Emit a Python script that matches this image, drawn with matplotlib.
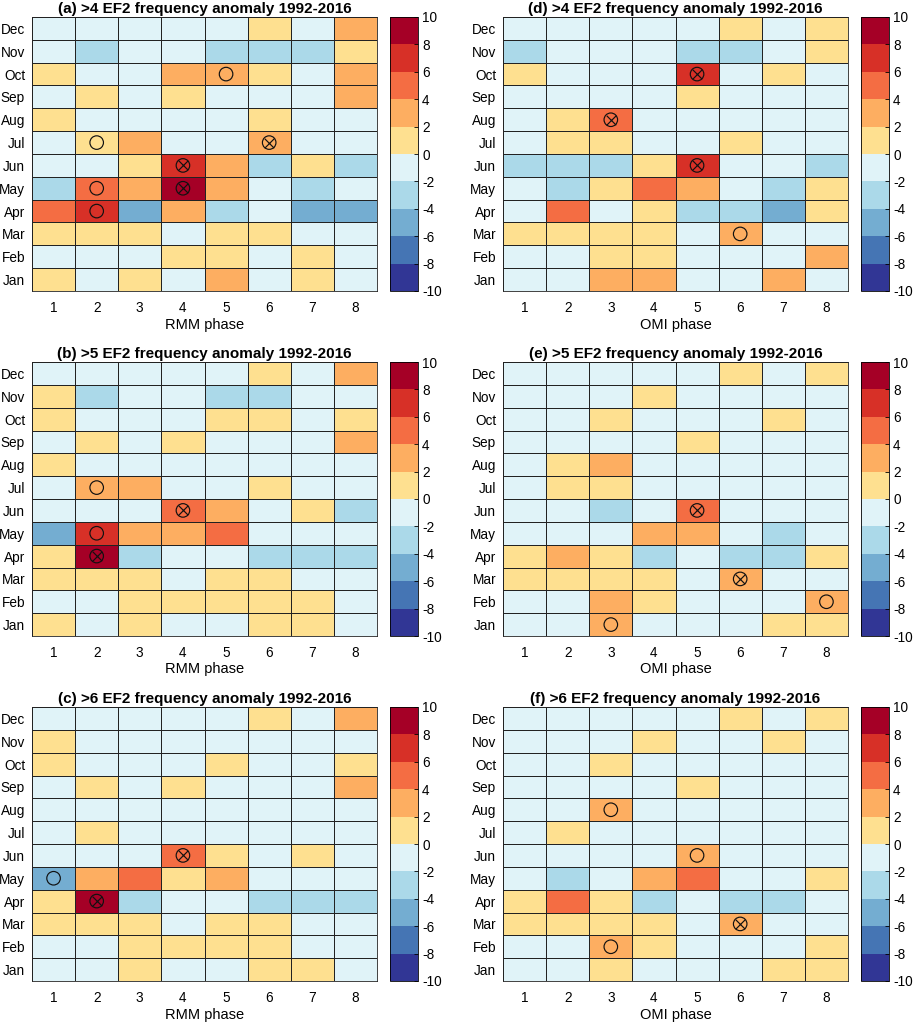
import numpy as np
import matplotlib
matplotlib.use("Agg")
import matplotlib.pyplot as plt
from matplotlib.colors import ListedColormap, BoundaryNorm

plt.rcParams["font.family"] = ["Liberation Sans", "DejaVu Sans"]
plt.rcParams["axes.unicode_minus"] = False

months = ["Jan", "Feb", "Mar", "Apr", "May", "Jun", "Jul", "Aug", "Sep", "Oct", "Nov", "Dec"]
phases = [1, 2, 3, 4, 5, 6, 7, 8]
levels = [-10, -8, -6, -4, -2, 0, 2, 4, 6, 8, 10]
colors = ["#313695", "#4575b4", "#74add1", "#abd9e9", "#e0f3f8",
          "#fee090", "#fdae61", "#f46d43", "#d73027", "#a50026"]

# anomaly values, rows Jan..Dec, columns phase 1..8
anom_a = [
    [1, -1, 1, -1, 3, -1, 1, -1],
    [-1, -1, -1, 1, 1, -1, 1, -1],
    [1, 1, 1, -1, 1, 1, -1, -1],
    [5, 7, -5, 3, -3, -1, -5, -5],
    [-3, 5, 3, 9, 3, -1, -3, -1],
    [-1, -1, 1, 7, 3, -3, 1, -3],
    [-1, 1, 3, -1, -1, 3, -1, -1],
    [1, -1, -1, -1, -1, 1, -1, -1],
    [-1, 1, -1, 1, -1, -1, -1, 3],
    [1, -1, -1, 3, 3, 1, -1, 3],
    [-1, -3, -1, -1, -3, -3, -3, 1],
    [-1, -1, -1, -1, -1, 1, -1, 3],
]
anom_b = [
    [1, -1, 1, -1, -1, 1, 1, -1],
    [-1, -1, 1, 1, 1, 1, 1, -1],
    [1, 1, 1, -1, 1, 1, -1, -1],
    [1, 9, -3, -1, -1, -3, -3, -3],
    [-5, 7, 3, 3, 5, -1, -1, -1],
    [-1, -1, -1, 5, 3, -1, 1, -3],
    [-1, 3, 3, -1, -1, 1, -1, -1],
    [1, -1, -1, -1, -1, -1, -1, -1],
    [-1, 1, -1, 1, -1, -1, -1, 3],
    [1, -1, -1, -1, 1, 1, -1, 1],
    [1, -3, -1, -1, -3, -3, -1, -1],
    [-1, -1, -1, -1, -1, 1, -1, 3],
]
anom_c = [
    [-1, -1, 1, -1, -1, 1, 1, -1],
    [-1, -1, 1, 1, 1, 1, -1, -1],
    [1, 1, 1, -1, 1, 1, -1, -1],
    [1, 9, -3, -1, -1, -3, -3, -3],
    [-5, 3, 5, 1, 3, -1, -1, -1],
    [-1, -1, -1, 5, 1, -1, 1, -1],
    [-1, 1, -1, -1, -1, -1, -1, -1],
    [-1, -1, -1, -1, -1, -1, -1, -1],
    [-1, 1, -1, 1, -1, -1, -1, 3],
    [1, -1, -1, -1, 1, -1, -1, 1],
    [1, -1, -1, -1, -1, -1, -1, -1],
    [-1, -1, -1, -1, -1, 1, -1, 3],
]
anom_d = [
    [-1, -1, 3, 3, -1, -1, 3, -1],
    [-1, -1, 1, 1, -1, -1, -1, 3],
    [1, 1, 1, 1, -1, 3, -1, -1],
    [-1, 5, -1, 1, -3, -3, -5, 1],
    [-1, -3, 1, 5, 3, -1, -3, 1],
    [-3, -3, -3, 1, 7, -1, -1, -3],
    [-1, 1, 1, -1, -1, 1, -1, -1],
    [-1, 1, 5, -1, -1, -1, -1, -1],
    [-1, -1, -1, -1, 1, -1, -1, -1],
    [1, -1, -1, -1, 7, -1, 1, -1],
    [-3, -1, -1, -1, -3, -3, -1, 1],
    [-1, -1, -1, -1, -1, 1, -1, 1],
]
anom_e = [
    [-1, -1, 3, -1, -1, -1, 1, 1],
    [-1, -1, 3, 1, -1, -1, -1, 3],
    [1, 1, 1, 1, -1, 3, -1, -1],
    [1, 3, 1, -3, -1, -3, -3, 1],
    [-1, -1, -1, 3, 3, -1, -3, -1],
    [-1, -1, -3, -1, 5, -1, -1, -1],
    [-1, 1, 1, -1, -1, -1, -1, -1],
    [-1, 1, 3, -1, -1, -1, -1, -1],
    [-1, -1, -1, -1, 1, -1, -1, -1],
    [-1, -1, 1, -1, -1, -1, 1, -1],
    [-1, -1, -1, 1, -1, -1, -1, -1],
    [-1, -1, -1, -1, -1, 1, -1, 1],
]
anom_f = [
    [-1, -1, 1, -1, -1, -1, 1, 1],
    [-1, -1, 3, 1, -1, -1, -1, 1],
    [1, 1, 1, 1, -1, 3, -1, -1],
    [1, 5, 1, -3, -1, -3, -3, -1],
    [-1, -3, -1, 3, 5, -1, -1, 1],
    [-1, -1, -1, -1, 3, -1, -1, -1],
    [-1, 1, -1, -1, -1, -1, -1, -1],
    [-1, -1, 3, -1, -1, -1, -1, -1],
    [-1, -1, -1, -1, 1, -1, -1, -1],
    [-1, -1, 1, -1, -1, -1, -1, -1],
    [-1, -1, -1, 1, -1, -1, 1, -1],
    [-1, -1, -1, -1, -1, 1, -1, 1],
]

# significance markers: (phase, month), circle = 90%, crossed circle = 95%
circ_a = [(5, "Oct"), (2, "Jul"), (2, "May"), (2, "Apr")]
cross_a = [(6, "Jul"), (4, "Jun"), (4, "May")]
circ_b = [(2, "Jul"), (2, "May")]
cross_b = [(4, "Jun"), (2, "Apr")]
circ_c = [(1, "May")]
cross_c = [(4, "Jun"), (2, "Apr")]
circ_d = [(6, "Mar")]
cross_d = [(5, "Oct"), (3, "Aug"), (5, "Jun")]
circ_e = [(8, "Feb"), (3, "Jan")]
cross_e = [(5, "Jun"), (6, "Mar")]
circ_f = [(3, "Aug"), (5, "Jun"), (3, "Feb")]
cross_f = [(6, "Mar")]

titles = {
    "a": "(a) >4 EF2 frequency anomaly 1992-2016",
    "b": "(b) >5 EF2 frequency anomaly 1992-2016",
    "c": "(c) >6 EF2 frequency anomaly 1992-2016",
    "d": "(d) >4 EF2 frequency anomaly 1992-2016",
    "e": "(e) >5 EF2 frequency anomaly 1992-2016",
    "f": "(f) >6 EF2 frequency anomaly 1992-2016",
}

cmap = ListedColormap(colors)
norm = BoundaryNorm(levels, cmap.N)

W, H = 913, 1024
fig = plt.figure(figsize=(W / 100, H / 100), dpi=100)


def px_axes(x0, y0, x1, y1):
    return fig.add_axes([x0 / W, 1 - y1 / H, (x1 - x0) / W, (y1 - y0) / H])


def panel(key, data, circ, cross, xlabel, left, top):
    ax = px_axes(left, top, left + 345, top + 274)
    cax = px_axes(left + 358, top, left + 386, top + 274)
    xe = np.arange(0.5, len(phases) + 1, 1)
    ye = np.arange(0.5, len(months) + 1, 1)
    mesh = ax.pcolormesh(xe, ye, np.array(data), cmap=cmap, norm=norm,
                         edgecolors="#222222", linewidth=0.55)
    ax.set_xlim(0.5, 8.5)
    ax.set_ylim(0.5, 12.5)
    ax.set_xticks(phases)
    ax.set_yticks(range(1, 13))
    ax.set_yticklabels(months)
    ax.tick_params(length=0, labelsize=9.8)
    ax.tick_params(axis="x", pad=7)
    ax.tick_params(axis="y", pad=5)
    ax.set_xlabel(xlabel, fontsize=10.5, labelpad=2)
    ax.set_title(titles[key], fontsize=11, fontweight="bold", pad=3)
    for s in ax.spines.values():
        s.set_color("#222222")
        s.set_linewidth(0.6)
    mi = {m: i + 1 for i, m in enumerate(months)}
    if circ:
        ax.scatter([p for p, m in circ], [mi[m] for p, m in circ], s=95,
                   facecolors="none", edgecolors="#111111", linewidths=0.85, zorder=3)
    if cross:
        xs = [p for p, m in cross]
        ys = [mi[m] for p, m in cross]
        ax.scatter(xs, ys, s=95, facecolors="none", edgecolors="#111111",
                   linewidths=0.85, zorder=3)
        ax.scatter(xs, ys, s=47, marker="x", c="#111111", linewidths=0.85, zorder=3)
    cb = fig.colorbar(mesh, cax=cax, ticks=levels)
    cb.ax.tick_params(labelsize=9.8, direction="in", length=3, width=0.6, pad=3)
    cb.outline.set_linewidth(0.6)


panel("a", anom_a, circ_a, cross_a, "RMM phase", 32, 17)
panel("b", anom_b, circ_b, cross_b, "RMM phase", 32, 362)
panel("c", anom_c, circ_c, cross_c, "RMM phase", 32, 707)
panel("d", anom_d, circ_d, cross_d, "OMI phase", 503, 17)
panel("e", anom_e, circ_e, cross_e, "OMI phase", 503, 362)
panel("f", anom_f, circ_f, cross_f, "OMI phase", 503, 707)

fig.savefig("out.png", dpi=100)
